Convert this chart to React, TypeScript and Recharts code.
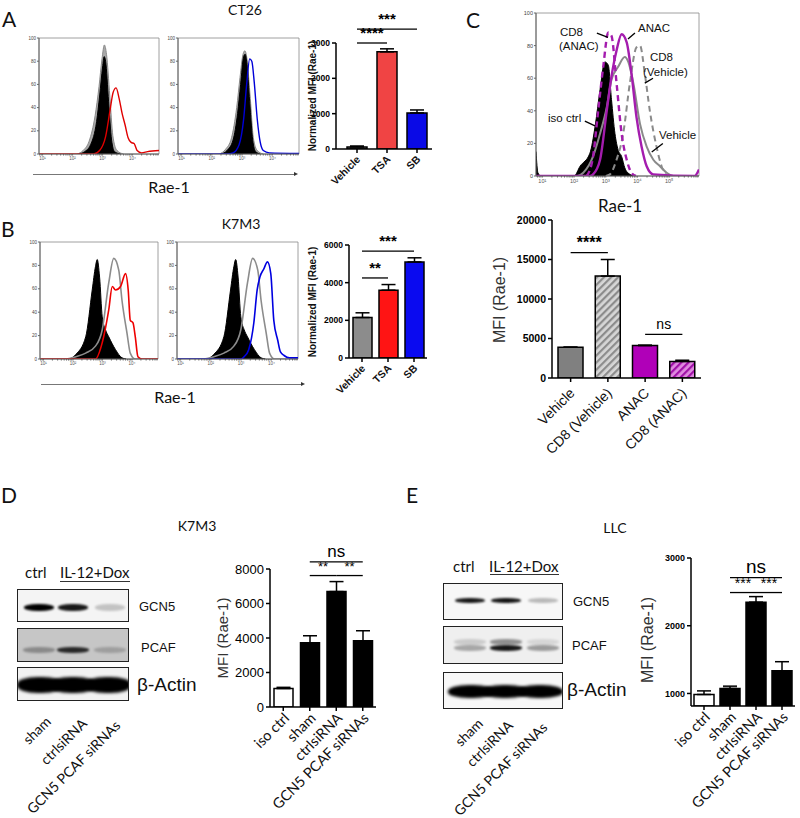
import React from "react";
import {
  Area,
  Bar,
  BarChart,
  Cell,
  ComposedChart,
  ErrorBar,
  Line,
  ReferenceArea,
  ReferenceLine,
  XAxis,
  YAxis,
} from "recharts";

const P = (rows: number[][]) => rows.map(([x, y]) => ({ x, y }));

// x = log10(Rae-1 intensity), y = % of max
// A – CT26
const CT26_ISO_1 = P([[2.2, 0], [2.4, 2], [2.6, 8], [2.8, 28], [2.9, 50], [3.0, 75], [3.05, 84], [3.1, 80], [3.2, 45], [3.3, 12], [3.4, 2], [3.6, 0]]);
const CT26_VEH_1 = P([[2.15, 0], [2.35, 3], [2.55, 11], [2.75, 33], [2.88, 58], [2.98, 82], [3.06, 94], [3.13, 86], [3.24, 50], [3.34, 16], [3.48, 3], [3.7, 0]]);
const CT26_TSA = P([[0.88, 0], [2.7, 0], [2.9, 3], [3.1, 15], [3.25, 38], [3.35, 53], [3.45, 57], [3.55, 48], [3.65, 35], [3.75, 25], [3.85, 14], [3.95, 10], [4.05, 9], [4.15, 3], [4.3, 1], [4.5, 2], [4.88, 3]]);
const CT26_ISO_2 = P([[2.3, 0], [2.5, 3], [2.7, 12], [2.85, 35], [2.95, 60], [3.05, 84], [3.1, 86], [3.15, 80], [3.25, 45], [3.35, 12], [3.45, 2], [3.6, 0]]);
const CT26_VEH_2 = P([[2.25, 0], [2.45, 4], [2.65, 14], [2.82, 40], [2.93, 66], [3.03, 86], [3.09, 89], [3.16, 82], [3.27, 48], [3.37, 14], [3.5, 3], [3.7, 0]]);
const CT26_SB = P([[0.88, 0], [2.5, 0], [2.7, 1], [2.9, 8], [3.05, 30], [3.15, 60], [3.25, 82], [3.32, 80], [3.4, 62], [3.5, 30], [3.6, 10], [3.7, 3], [3.9, 1], [4.88, 0.5]]);

// B – K7M3
const K7M3_ISO = P([[1.9, 0], [2.1, 4], [2.43, 19], [2.65, 59], [2.76, 79], [2.82, 85], [2.9, 70], [2.99, 36], [3.1, 25], [3.21, 19], [3.44, 8], [3.66, 1], [3.8, 0]]);
const K7M3_VEH = P([[0.88, 0], [1.75, 0], [2.1, 2], [2.43, 5], [2.76, 11], [2.99, 25], [3.21, 65], [3.38, 86], [3.55, 76], [3.66, 50], [3.83, 22], [3.94, 5], [4.1, 0], [4.88, 0]]);
const K7M3_TSA = P([[0.88, 0], [2.76, 0], [2.99, 14], [3.21, 42], [3.33, 62], [3.44, 59], [3.61, 62], [3.78, 73], [3.87, 59], [3.94, 33], [4.03, 31], [4.11, 19], [4.2, 2], [4.34, 0], [4.88, 0]]);
const K7M3_SB = P([[0.88, 0], [3.0, 0], [3.1, 2], [3.25, 8], [3.42, 31], [3.53, 59], [3.62, 70], [3.75, 77], [3.87, 83], [3.98, 73], [4.08, 33], [4.21, 16], [4.3, 6], [4.42, 3], [4.6, 1], [4.88, 1]]);

// C – ANAC / CD8 depletion
const C_ISO = P([[0.8, 15], [0.86, 2], [0.95, 0], [2.0, 0], [2.19, 6], [2.5, 14], [2.66, 30], [2.82, 53], [2.97, 70], [3.08, 68], [3.18, 47], [3.29, 26], [3.39, 16], [3.5, 12], [3.6, 5], [3.76, 1], [3.9, 0]]);
const C_VEH = P([[0.8, 0], [2.1, 0], [2.29, 2], [2.6, 12], [2.82, 26], [3.03, 42], [3.18, 59], [3.39, 67], [3.6, 73], [3.71, 70], [3.87, 57], [4.08, 32], [4.29, 18], [4.5, 10], [4.71, 6], [4.92, 2], [5.13, 0], [5.94, 0]]);
const C_CD8_VEH = P([[3.0, 0], [3.13, 1], [3.34, 10], [3.55, 26], [3.76, 57], [3.97, 79], [4.08, 80], [4.23, 63], [4.39, 40], [4.6, 18], [4.76, 6], [4.92, 0]]);
const C_ANAC = P([[0.8, 0], [2.5, 0], [2.6, 1], [2.82, 10], [3.03, 40], [3.18, 61], [3.34, 77], [3.5, 87], [3.66, 82], [3.81, 63], [3.97, 36], [4.13, 18], [4.29, 6], [4.5, 1], [5.8, 0], [5.94, 4]]);
const C_CD8_ANAC = P([[2.4, 0], [2.6, 12], [2.76, 40], [2.92, 67], [3.08, 88], [3.18, 86], [3.34, 57], [3.5, 26], [3.66, 10], [3.81, 2], [3.95, 0]]);

const HIST_Y_TICKS = [0, 20, 40, 60, 80, 100];
const AB_MAJORS = [1, 2, 3, 4];
const C_MAJORS = [1, 2, 3, 4, 5];
const SUP = ["⁰", "¹", "²", "³", "⁴", "⁵"];

// bar charts
const A_GROUPS = ["Vehicle", "TSA", "SB"];
const A_MFI = [60, 2750, 1020];
const A_SEM = [25, 85, 85];
const A_TICKS = [0, 1000, 2000, 3000];

const B_GROUPS = ["Vehicle", "TSA", "SB"];
const B_MFI = [2150, 3600, 5100];
const B_SEM = [250, 300, 220];
const B_TICKS = [0, 2000, 4000, 6000];

const C_GROUPS = ["Vehicle", "CD8 (Vehicle)", "ANAC", "CD8 (ANAC)"];
const C_MFI = [3900, 12900, 4100, 2100];
const C_SEM = [0, 2100, 60, 150];
const C_TICKS = [0, 5000, 10000, 15000, 20000];

const D_GROUPS = ["iso ctrl", "sham", "ctrlsiRNA", "GCN5 PCAF siRNAs"];
const D_MFI = [1070, 3720, 6690, 3840];
const D_SEM = [70, 410, 580, 580];
const D_TICKS = [0, 2000, 4000, 6000, 8000];

const E_GROUPS = ["iso ctrl", "sham", "ctrlsiRNA", "GCN5 PCAF siRNAs"];
const E_MFI = [985, 1074, 2348, 1335];
const E_SEM = [53, 34, 82, 134];
const E_TICKS = [1000, 2000, 3000];

const A_SIG = [
  { a: "Vehicle", b: "TSA", y: 3000, t: "****" },
  { a: "Vehicle", b: "SB", y: 3390, t: "***" },
];
const B_SIG = [
  { a: "Vehicle", b: "TSA", y: 4250, t: "**" },
  { a: "Vehicle", b: "SB", y: 5680, t: "***" },
];
const C_SIG = [
  { a: "Vehicle", b: "CD8 (Vehicle)", y: 15860, t: "****" },
  { a: "ANAC", b: "CD8 (ANAC)", y: 5530, t: "ns" },
];
const D_SIG = [
  { a: "sham", b: "GCN5 PCAF siRNAs", y: 8410, t: "ns" },
  { a: "sham", b: "ctrlsiRNA", y: 7620, t: "**" },
  { a: "ctrlsiRNA", b: "GCN5 PCAF siRNAs", y: 7620, t: "**" },
];
const E_SIG = [
  { a: "sham", b: "GCN5 PCAF siRNAs", y: 2710, t: "ns" },
  { a: "sham", b: "ctrlsiRNA", y: 2490, t: "***" },
  { a: "ctrlsiRNA", b: "GCN5 PCAF siRNAs", y: 2490, t: "***" },
];

// western blot band intensities (sham, ctrlsiRNA, GCN5 PCAF siRNAs)
const BLOT_LANES = ["sham", "ctrlsiRNA", "GCN5 PCAF siRNAs"];
const D_GCN5 = [1, 0.9, 0.2];
const D_PCAF = [0.3, 0.8, 0.2];
const D_ACTIN = [1, 1, 1];
const E_GCN5 = [0.9, 0.92, 0.25];
const E_PCAF = [0.3, 0.9, 0.35];
const E_PCAF_UPPER = [0.15, 0.4, 0.1];
const E_ACTIN = [1, 1, 1];

const ARIAL = '"Liberation Sans", Arial, sans-serif';
const CALIBRI = 'Lato, "Open Sans", sans-serif';

const rows = (g: string[], m: number[], e: number[]) =>
  g.map((name, i) => ({ name, v: m[i], e: [0, e[i]] }));

const LogTick = ({ x, y, payload, majors, fs }: any) => {
  if (!majors.includes(payload.value)) return <g />;
  return (
    <text x={x} y={y + fs} textAnchor="middle" fontSize={fs} fill="#555" fontFamily={ARIAL}>
      {"10" + SUP[payload.value]}
    </text>
  );
};

function Histo({ left, top, w, h, domain, majors, fs, children }: any) {
  const yw = 14;
  const xh = 12;
  const mt = 4;
  const mr = 4;
  const ticks = [...majors];
  for (let n = Math.floor(domain[0]); n < domain[1]; n++)
    for (let k = 2; k < 10; k++) {
      const v = n + Math.log10(k);
      if (v > domain[0] && v < domain[1]) ticks.push(v);
    }
  return (
    <div style={{ position: "absolute", left: left - yw, top: top - mt }}>
      <ComposedChart width={yw + w + mr} height={mt + h + xh} margin={{ top: mt, right: mr, left: 0, bottom: 0 }}>
        <XAxis
          type="number"
          dataKey="x"
          domain={domain}
          allowDataOverflow
          ticks={ticks}
          interval={0}
          height={xh}
          tickSize={1.5}
          tickMargin={0}
          stroke="#666"
          tick={<LogTick majors={majors} fs={fs} />}
        />
        <YAxis
          type="number"
          domain={[0, 100]}
          allowDataOverflow
          ticks={HIST_Y_TICKS}
          interval={0}
          width={yw}
          tickSize={2}
          tickMargin={1}
          stroke="#666"
          tick={{ fontSize: fs, fill: "#444", fontFamily: ARIAL }}
        />
        <ReferenceArea x1={domain[0]} x2={domain[1]} y1={0} y2={100} fill="none" stroke="#888" strokeWidth={0.8} />
        {children}
      </ComposedChart>
    </div>
  );
}

const RotTick = ({ x, y, payload, fs, ff, fw, ox, oy }: any) => (
  <text
    x={x + ox}
    y={y + oy}
    transform={`rotate(-45 ${x + ox} ${y + oy})`}
    textAnchor="end"
    fontSize={fs}
    fontFamily={ff}
    fontWeight={fw}
    fill="#111"
  >
    {payload.value}
  </text>
);

function BarPanel(props: any) {
  const { left, top, w, h, yw, xh, mt, mr, padL, data, fills, domain, ticks, yTick, xTick, sigs, sigFont, barSize, defs } = props;
  return (
    <div style={{ position: "absolute", left: left - yw, top: top - mt }}>
      <BarChart width={yw + w + mr} height={mt + h + xh} data={data} margin={{ top: mt, right: mr, left: 0, bottom: 0 }}>
        {defs}
        <XAxis
          dataKey="name"
          padding={{ left: padL, right: 0 }}
          height={xh}
          interval={0}
          tickSize={4}
          stroke="#000"
          strokeWidth={1.5}
          tick={<RotTick {...xTick} />}
        />
        <YAxis
          type="number"
          domain={domain}
          allowDataOverflow
          ticks={ticks}
          interval={0}
          width={yw}
          tickSize={4}
          tickMargin={2}
          stroke="#000"
          strokeWidth={1.5}
          tick={{ fill: "#000", fontFamily: ARIAL, ...yTick }}
        />
        <Bar dataKey="v" barSize={barSize} stroke="#000" strokeWidth={1.5} isAnimationActive={false}>
          {data.map((d: any, i: number) => (
            <Cell key={d.name} fill={fills[i]} />
          ))}
          <ErrorBar dataKey="e" width={7} strokeWidth={1.5} stroke="#000" />
        </Bar>
        {sigs.map((s: any, i: number) => (
          <ReferenceLine
            key={i}
            segment={[{ x: s.a, y: s.y }, { x: s.b, y: s.y }]}
            stroke="#000"
            strokeWidth={1.3}
            ifOverflow="visible"
            label={{
              value: s.t,
              position: "top",
              fill: "#000",
              fontFamily: ARIAL,
              ...(s.t === "ns" ? sigFont.ns : sigFont.star),
            }}
          />
        ))}
      </BarChart>
    </div>
  );
}

function Blot({ left, top, w, h, bg, lanes, vals, bw, bh, by, blur }: any) {
  return (
    <div
      style={{
        position: "absolute",
        left,
        top,
        width: w,
        height: h,
        border: "1.5px solid #222",
        background: bg,
        overflow: "hidden",
        boxSizing: "border-box",
      }}
    >
      {vals.map((band: any, j: number) =>
        band.v.map((v: number, i: number) => (
          <div
            key={j + "-" + i}
            style={{
              position: "absolute",
              left: lanes[i] - bw / 2,
              top: by + band.dy - bh / 2,
              width: bw,
              height: bh,
              background: `rgba(0,0,0,${v})`,
              borderRadius: "45%",
              filter: `blur(${blur}px)`,
            }}
          />
        ))
      )}
    </div>
  );
}

const T = ({ x, y, s, children, ff = CALIBRI, fw = 400, c = "#111", a = "left" }: any) => (
  <div
    style={{
      position: "absolute",
      left: x,
      top: y,
      transform: a === "center" ? "translate(-50%,-50%)" : "translate(0,-50%)",
      fontSize: s,
      fontFamily: ff,
      fontWeight: fw,
      color: c,
      lineHeight: 1,
      whiteSpace: "nowrap",
    }}
  >
    {children}
  </div>
);

const VT = ({ x, y, s, children, ff = ARIAL, fw = 400, c = "#111" }: any) => (
  <div
    style={{
      position: "absolute",
      left: x,
      top: y,
      transform: "translate(-50%,-50%) rotate(-90deg)",
      fontSize: s,
      fontFamily: ff,
      fontWeight: fw,
      color: c,
      lineHeight: 1,
      whiteSpace: "nowrap",
    }}
  >
    {children}
  </div>
);

const Diag = ({ ex, ey, s, children }: any) => (
  <div
    style={{
      position: "absolute",
      right: 800 - ex,
      top: ey,
      transformOrigin: "100% 0",
      transform: "rotate(-45deg)",
      fontSize: s,
      fontFamily: CALIBRI,
      color: "#111",
      lineHeight: 1,
      whiteSpace: "nowrap",
    }}
  >
    {children}
  </div>
);

const AxisArrow = ({ x1, x2, y }: any) => (
  <>
    <div style={{ position: "absolute", left: x1, top: y, width: x2 - x1, borderTop: "1px solid #777" }} />
    <div
      style={{
        position: "absolute",
        left: x2 - 1,
        top: y - 2,
        width: 0,
        height: 0,
        borderTop: "2.5px solid transparent",
        borderBottom: "2.5px solid transparent",
        borderLeft: "4px solid #333",
      }}
    />
  </>
);

const hatchDefs = (
  <defs>
    <pattern id="hatchGray" width="5" height="5" patternUnits="userSpaceOnUse" patternTransform="rotate(45)">
      <rect width="5" height="5" fill="#d6d6d6" />
      <rect width="2.2" height="5" fill="#8c8c8c" />
    </pattern>
    <pattern id="hatchPurple" width="5" height="5" patternUnits="userSpaceOnUse" patternTransform="rotate(45)">
      <rect width="5" height="5" fill="#e08ce0" />
      <rect width="2.2" height="5" fill="#a010a8" />
    </pattern>
  </defs>
);

const histLine = (data: any, stroke: string, width = 1.4, dash?: string) => (
  <Line
    data={data}
    dataKey="y"
    type="monotone"
    stroke={stroke}
    strokeWidth={width}
    strokeDasharray={dash}
    dot={false}
    isAnimationActive={false}
  />
);

const histArea = (data: any, fill: string, stroke: string) => (
  <Area
    data={data}
    dataKey="y"
    type="monotone"
    fill={fill}
    fillOpacity={1}
    stroke={stroke}
    strokeWidth={1}
    isAnimationActive={false}
  />
);

const leader = (x1: number, y1: number, x2: number, y2: number) => (
  <ReferenceLine
    segment={[{ x: x1, y: y1 }, { x: x2, y: y2 }]}
    stroke="#000"
    strokeWidth={1.3}
    ifOverflow="visible"
  />
);

export default function App() {
  const AB_DOMAIN = [0.88, 4.88];
  const abX = { fs: 10.5, ff: ARIAL, fw: 700, ox: 4, oy: 5 };
  const abY = { fontSize: 8.5, fontWeight: 700 };
  const deX = { fs: 14.5, ff: CALIBRI, fw: 400, ox: 7, oy: 6 };
  const starBold = { star: { fontSize: 15, fontWeight: 700 }, ns: { fontSize: 14 } };
  return (
    <div style={{ position: "absolute", left: 0, top: 0, width: 800, height: 818, background: "#fff", overflow: "hidden" }}>
      {/* ---------- A ---------- */}
      <T x={2} y={18} s={21}>A</T>
      <T x={245} y={10} s={14} a="center">CT26</T>
      <Histo left={39} top={38} w={120} h={116} domain={AB_DOMAIN} majors={AB_MAJORS} fs={4.5}>
        {histArea(CT26_VEH_1, "#a8a8a8", "#8a8a8a")}
        {histArea(CT26_ISO_1, "#000", "#000")}
        {histLine(CT26_TSA, "#e00000")}
      </Histo>
      <Histo left={178} top={38} w={121} h={116} domain={AB_DOMAIN} majors={AB_MAJORS} fs={4.5}>
        {histArea(CT26_VEH_2, "#a8a8a8", "#8a8a8a")}
        {histArea(CT26_ISO_2, "#000", "#000")}
        {histLine(CT26_SB, "#0000d8")}
      </Histo>
      <AxisArrow x1={33} x2={295} y={174} />
      <T x={169} y={187} s={16} a="center">Rae-1</T>
      <BarPanel
        left={336}
        top={43}
        w={96}
        h={106}
        yw={36}
        xh={60}
        mt={40}
        mr={6}
        padL={6}
        data={rows(A_GROUPS, A_MFI, A_SEM)}
        fills={["#7f7f7f", "#f04444", "#0a0ae6"]}
        domain={[0, 3000]}
        ticks={A_TICKS}
        yTick={abY}
        xTick={abX}
        sigs={A_SIG}
        sigFont={starBold}
        barSize={20}
      />
      <VT x={313} y={96} s={10} fw={700}>Normalized MFI (Rae-1)</VT>

      {/* ---------- B ---------- */}
      <T x={1} y={228} s={21}>B</T>
      <T x={241} y={224} s={14} a="center">K7M3</T>
      <Histo left={40} top={242} w={118} h={117} domain={AB_DOMAIN} majors={AB_MAJORS} fs={4.5}>
        {histArea(K7M3_ISO, "#000", "#000")}
        {histLine(K7M3_VEH, "#8c8c8c", 1.6)}
        {histLine(K7M3_TSA, "#ee0000", 1.6)}
      </Histo>
      <Histo left={177} top={242} w={121} h={117} domain={AB_DOMAIN} majors={AB_MAJORS} fs={4.5}>
        {histArea(K7M3_ISO, "#000", "#000")}
        {histLine(K7M3_VEH, "#8c8c8c", 1.6)}
        {histLine(K7M3_SB, "#0000e0", 1.6)}
      </Histo>
      <AxisArrow x1={41} x2={302} y={384} />
      <T x={175} y={397} s={16} a="center">Rae-1</T>
      <BarPanel
        left={349}
        top={245}
        w={78}
        h={113}
        yw={36}
        xh={60}
        mt={40}
        mr={6}
        padL={0}
        data={rows(B_GROUPS, B_MFI, B_SEM)}
        fills={["#8c8c8c", "#ff1414", "#0a0af0"]}
        domain={[0, 6000]}
        ticks={B_TICKS}
        yTick={abY}
        xTick={abX}
        sigs={B_SIG}
        sigFont={starBold}
        barSize={19}
      />
      <VT x={313} y={302} s={10} fw={700}>Normalized MFI (Rae-1)</VT>

      {/* ---------- C ---------- */}
      <T x={466} y={19} s={21}>C</T>
      <Histo left={536} top={13} w={163} h={163} domain={[0.8, 5.94]} majors={C_MAJORS} fs={5.5}>
        {histArea(C_ISO, "#000", "#000")}
        {histLine(C_VEH, "#8a8a8a", 2)}
        {histLine(C_CD8_VEH, "#8a8a8a", 2, "6 4")}
        {histLine(C_ANAC, "#a41cae", 2.4)}
        {histLine(C_CD8_ANAC, "#a41cae", 2.4, "6 4")}
        {leader(2.72, 87.7, 3.07, 85)}
        {leader(3.92, 87.7, 3.7, 84)}
        {leader(4.49, 60, 4.23, 57)}
        {leader(2.34, 33.7, 2.66, 30.7)}
        {leader(4.8, 20, 4.45, 14.7)}
      </Histo>
      <T x={560} y={33} s={11.5} ff={ARIAL}>CD8</T>
      <T x={559} y={47} s={11.5} ff={ARIAL}>(ANAC)</T>
      <T x={638} y={29} s={11.5} ff={ARIAL}>ANAC</T>
      <T x={650} y={58} s={11.5} ff={ARIAL}>CD8</T>
      <T x={643} y={73} s={11.5} ff={ARIAL}>(Vehicle)</T>
      <T x={548} y={119} s={11.5} ff={ARIAL}>iso ctrl</T>
      <T x={659} y={136} s={11.5} ff={ARIAL}>Vehicle</T>
      <T x={620} y={205} s={17} a="center">Rae-1</T>
      <BarPanel
        left={552}
        top={220}
        w={149}
        h={158}
        yw={50}
        xh={110}
        mt={12}
        mr={8}
        padL={0}
        data={rows(C_GROUPS, C_MFI, C_SEM)}
        fills={["#808080", "url(#hatchGray)", "#b000b8", "url(#hatchPurple)"]}
        domain={[0, 20000]}
        ticks={C_TICKS}
        yTick={{ fontSize: 10.5, fontWeight: 700 }}
        xTick={{ fs: 14, ff: ARIAL, fw: 400, ox: 5, oy: 10 }}
        sigs={C_SIG}
        sigFont={{ star: { fontSize: 16, fontWeight: 700 }, ns: { fontSize: 14 } }}
        barSize={25}
        defs={hatchDefs}
      />
      <VT x={500} y={300} s={16} c="#333">MFI (Rae-1)</VT>

      {/* ---------- D ---------- */}
      <T x={1} y={494} s={21}>D</T>
      <T x={197} y={526} s={14} a="center">K7M3</T>
      <T x={25} y={572} s={15}>ctrl</T>
      <T x={60} y={572} s={15}>IL-12+Dox</T>
      <div style={{ position: "absolute", left: 60, top: 581, width: 70, borderTop: "1px solid #333" }} />
      <Blot left={17} top={589} w={112} h={33} bg="#f4f4f4" lanes={[21, 55, 92]} vals={[{ v: D_GCN5, dy: 0 }]} bw={30} bh={7} by={17} blur={1.3} />
      <Blot left={17} top={628} w={112} h={34} bg="#c6c6c6" lanes={[21, 55, 92]} vals={[{ v: D_PCAF, dy: 0 }]} bw={32} bh={6} by={21} blur={1.3} />
      <Blot left={17} top={667} w={112} h={34} bg="#f2f2f2" lanes={[22, 55, 90]} vals={[{ v: D_ACTIN, dy: 0 }]} bw={46} bh={16} by={17} blur={1.5} />
      <T x={139} y={606} s={13} ff={ARIAL}>GCN5</T>
      <T x={141} y={647} s={13} ff={ARIAL}>PCAF</T>
      <T x={137} y={684} s={19} ff={ARIAL}>β-Actin</T>
      <Diag ex={43} ey={714} s={14}>{BLOT_LANES[0]}</Diag>
      <Diag ex={79} ey={716} s={14}>{BLOT_LANES[1]}</Diag>
      <Diag ex={113} ey={718} s={14}>{BLOT_LANES[2]}</Diag>
      <BarPanel
        left={270}
        top={569}
        w={106}
        h={138}
        yw={50}
        xh={118}
        mt={40}
        mr={6}
        padL={0}
        data={rows(D_GROUPS, D_MFI, D_SEM)}
        fills={["#fff", "#000", "#000", "#000"]}
        domain={[0, 8000]}
        ticks={D_TICKS}
        yTick={{ fontSize: 13, fontWeight: 400 }}
        xTick={deX}
        sigs={D_SIG}
        sigFont={{ star: { fontSize: 13, fontWeight: 400 }, ns: { fontSize: 17 } }}
        barSize={19}
      />
      <VT x={222} y={638} s={15} c="#333">MFI (Rae-1)</VT>

      {/* ---------- E ---------- */}
      <T x={406} y={494} s={21}>E</T>
      <T x={615} y={528} s={14} a="center">LLC</T>
      <T x={453} y={566} s={15}>ctrl</T>
      <T x={489} y={566} s={15}>IL-12+Dox</T>
      <div style={{ position: "absolute", left: 490, top: 574, width: 69, borderTop: "1px solid #333" }} />
      <Blot left={443} top={583} w={120} h={37} bg="#f7f7f7" lanes={[26, 62, 99]} vals={[{ v: E_GCN5, dy: 0 }]} bw={30} bh={5} by={16} blur={1} />
      <Blot left={443} top={626} w={120} h={38} bg="#efefef" lanes={[26, 62, 99]} vals={[{ v: E_PCAF_UPPER, dy: -6 }, { v: E_PCAF, dy: 0 }]} bw={32} bh={6} by={21} blur={1.2} />
      <Blot left={443} top={672} w={120} h={37} bg="#f8f8f8" lanes={[27, 61, 96]} vals={[{ v: E_ACTIN, dy: 0 }]} bw={46} bh={13} by={18} blur={1.4} />
      <T x={573} y={601} s={13} ff={ARIAL}>GCN5</T>
      <T x={572} y={645} s={13} ff={ARIAL}>PCAF</T>
      <T x={567} y={689} s={19} ff={ARIAL}>β-Actin</T>
      <Diag ex={475} ey={716} s={14}>{BLOT_LANES[0]}</Diag>
      <Diag ex={505} ey={718} s={14}>{BLOT_LANES[1]}</Diag>
      <Diag ex={540} ey={720} s={14}>{BLOT_LANES[2]}</Diag>
      <BarPanel
        left={691}
        top={558}
        w={104}
        h={148}
        yw={50}
        xh={118}
        mt={40}
        mr={4}
        padL={0}
        data={rows(E_GROUPS, E_MFI, E_SEM)}
        fills={["#fff", "#000", "#000", "#000"]}
        domain={[815, 3000]}
        ticks={E_TICKS}
        yTick={{ fontSize: 9, fontWeight: 700 }}
        xTick={deX}
        sigs={E_SIG}
        sigFont={{ star: { fontSize: 14, fontWeight: 400 }, ns: { fontSize: 19 } }}
        barSize={20}
      />
      <VT x={648} y={640} s={16} c="#333">MFI (Rae-1)</VT>
    </div>
  );
}
